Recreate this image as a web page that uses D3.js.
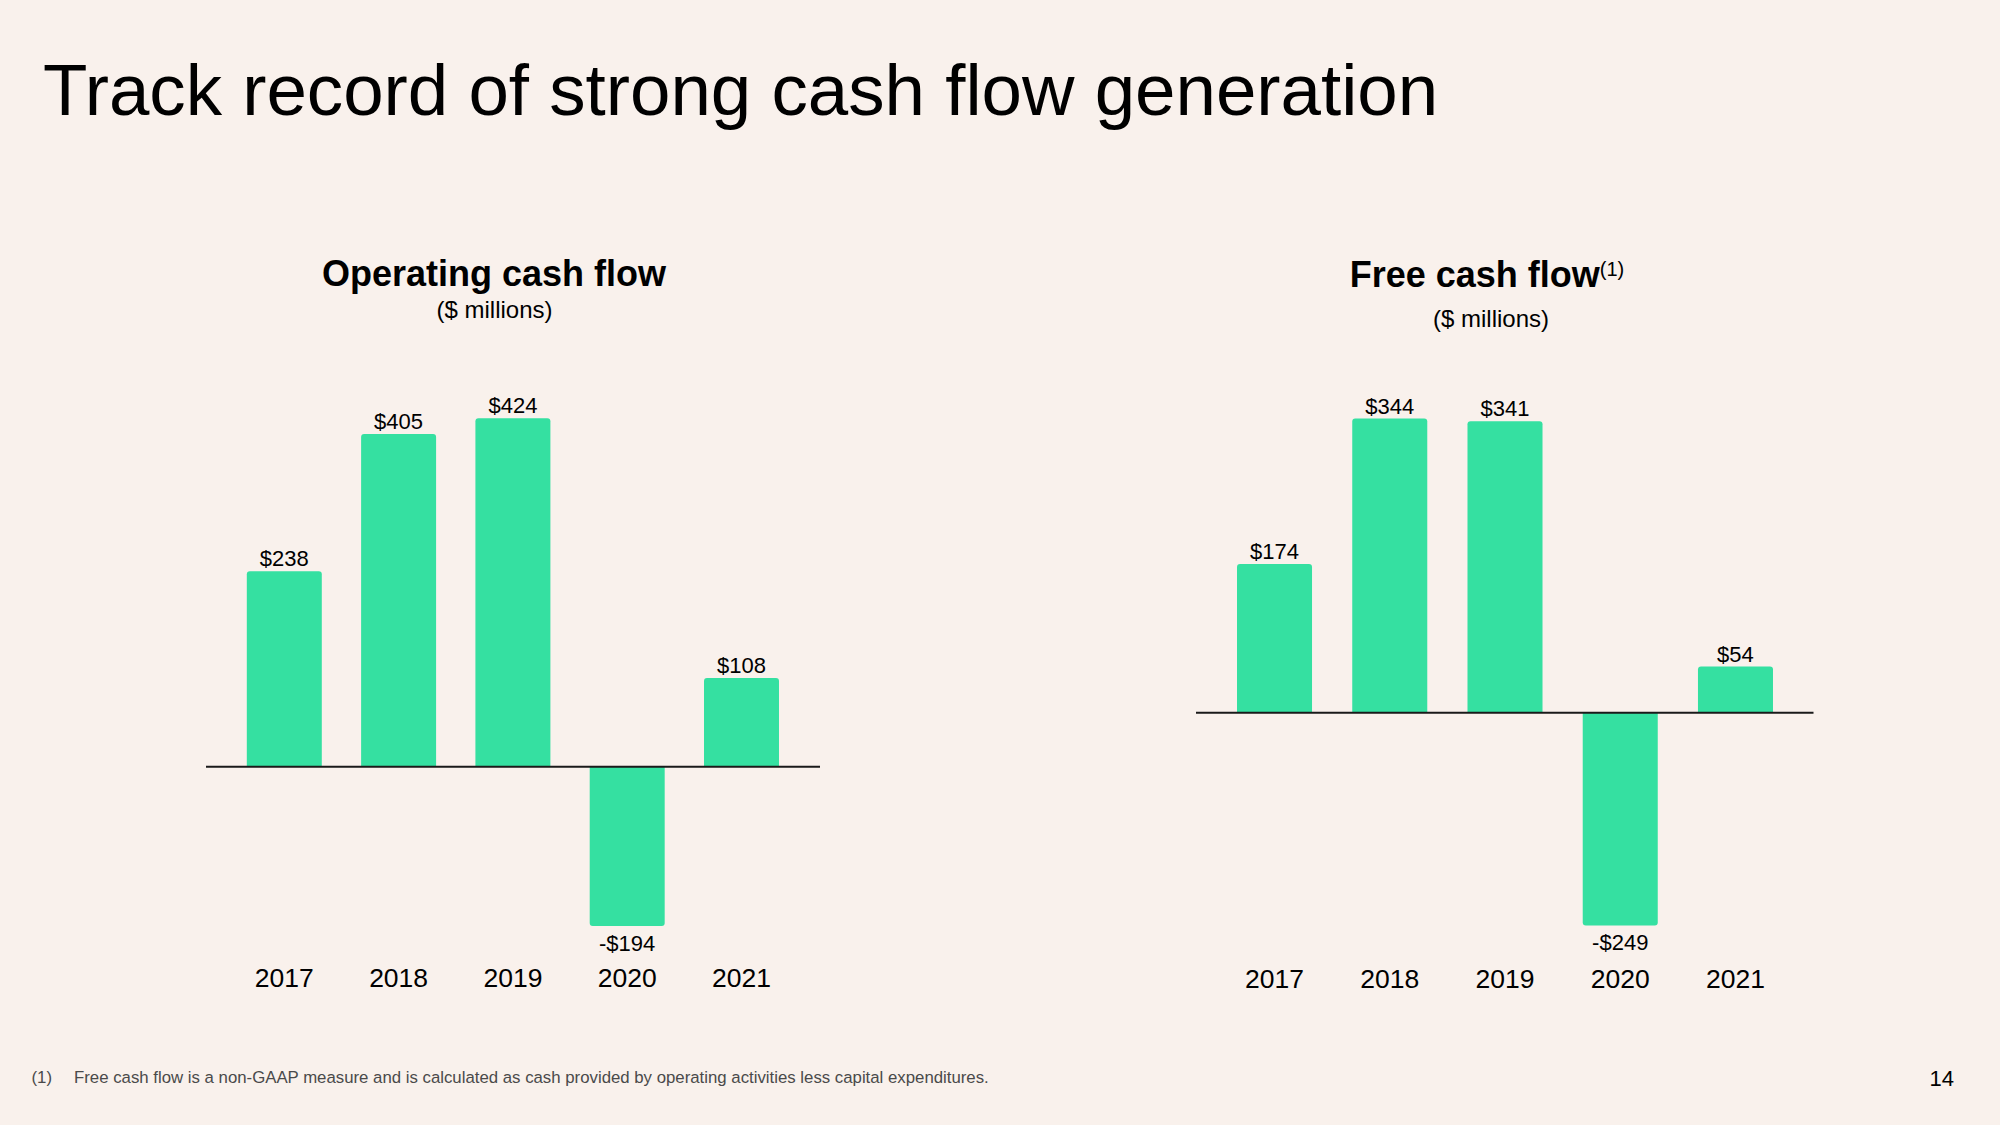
<!DOCTYPE html>
<html>
<head>
<meta charset="utf-8">
<script src="https://cdn.jsdelivr.net/npm/d3@7"></script>
<style>
  html, body { margin: 0; padding: 0; background: #f9f1ec; }
  svg { display: block; }
  text { font-family: "Liberation Sans", Arial, Helvetica, sans-serif; }
</style>
</head>
<body>
<svg id="chart" width="2000" height="1125"></svg>
<script>
const years = ["2017", "2018", "2019", "2020", "2021"];
const operatingCashFlow = [238, 405, 424, -194, 108];
const freeCashFlow = [174, 344, 341, -249, 54];
const operatingLabels = ["$238", "$405", "$424", "-$194", "$108"];
const freeLabels = ["$174", "$344", "$341", "-$249", "$54"];

const BAR = "#35e0a1";
const svg = d3.select("#chart");

svg.append("rect").attr("width", 2000).attr("height", 1125).attr("fill", "#f9f1ec");

svg.append("text").attr("x", 43).attr("y", 115)
  .attr("font-size", 72.7).attr("fill", "#000")
  .text("Track record of strong cash flow generation");

function barPath(x, w, y0, y1, r) {
  if (y1 < y0) {
    return `M${x},${y0}V${y1 + r}Q${x},${y1} ${x + r},${y1}H${x + w - r}Q${x + w},${y1} ${x + w},${y1 + r}V${y0}Z`;
  } else {
    return `M${x},${y0}V${y1 - r}Q${x},${y1} ${x + r},${y1}H${x + w - r}Q${x + w},${y1} ${x + w},${y1 - r}V${y0}Z`;
  }
}

function drawPanel(cfg) {
  const g = svg.append("g");
  const x = d3.scaleBand().domain(years).range(cfg.xRange)
    .paddingInner(cfg.pad).paddingOuter(cfg.pad / 2);
  const y = d3.scaleLinear().domain(cfg.yDomain).range(cfg.yRange);
  const y0 = y(0);

  g.selectAll("path.bar").data(cfg.values).join("path")
    .attr("class", "bar")
    .attr("fill", BAR)
    .attr("d", (d, i) => barPath(x(years[i]), x.bandwidth(), y0, y(d), 3));

  g.append("line")
    .attr("x1", cfg.lineX[0]).attr("x2", cfg.lineX[1])
    .attr("y1", y0).attr("y2", y0)
    .attr("stroke", "#1a1a1a").attr("stroke-width", 2);

  g.selectAll("text.val").data(cfg.values).join("text")
    .attr("class", "val")
    .attr("x", (d, i) => x(years[i]) + x.bandwidth() / 2)
    .attr("y", d => d >= 0 ? y(d) - 5 : y(d) + 24.5)
    .attr("text-anchor", "middle").attr("font-size", 22).attr("fill", "#000")
    .text((d, i) => cfg.labels[i]);

  const xAxis = d3.axisBottom(x).tickSize(0).tickPadding(0);
  const ax = g.append("g").attr("transform", `translate(0,${cfg.yearBase})`).call(xAxis);
  ax.select(".domain").remove();
  ax.selectAll("text").attr("font-size", 26.5).attr("fill", "#000")
    .attr("dy", 0).attr("y", 0)
    .style("font-family", '"Liberation Sans", Arial, sans-serif');

  const t = g.append("text").attr("x", cfg.titleX).attr("y", cfg.titleY)
    .attr("text-anchor", "middle").attr("font-size", 36).attr("font-weight", "bold")
    .attr("fill", "#000");
  t.append("tspan").text(cfg.title);
  if (cfg.sup) {
    t.append("tspan").attr("font-size", 20).attr("font-weight", "normal")
      .attr("dy", -11).text(cfg.sup);
  }
  g.append("text").attr("x", cfg.subX).attr("y", cfg.subY)
    .attr("text-anchor", "middle").attr("font-size", 24).attr("fill", "#000")
    .text("($ millions)");
}

drawPanel({
  values: operatingCashFlow, labels: operatingLabels,
  xRange: [227.15, 798.65], pad: 0.344,
  yDomain: [-250, 450], yRange: [972.1, 397.0],
  lineX: [206, 820], yearBase: 986.5,
  title: "Operating cash flow", titleX: 494, titleY: 285.5,
  subX: 494.5, subY: 318
});

drawPanel({
  values: freeCashFlow, labels: freeLabels,
  xRange: [1216.9, 1793.1], pad: 0.349,
  yDomain: [-250, 400], yRange: [926.45, 370.7],
  lineX: [1196, 1813.5], yearBase: 988,
  title: "Free cash flow", sup: "(1)", titleX: 1487, titleY: 286.5,
  subX: 1491, subY: 327
});

svg.append("text").attr("x", 31.5).attr("y", 1082.5)
  .attr("font-size", 16.8).attr("fill", "#4a4a4a").text("(1)");
svg.append("text").attr("x", 74).attr("y", 1082.5)
  .attr("font-size", 16.8).attr("fill", "#4a4a4a")
  .text("Free cash flow is a non-GAAP measure and is calculated as cash provided by operating activities less capital expenditures.");

svg.append("text").attr("x", 1954).attr("y", 1086)
  .attr("text-anchor", "end").attr("font-size", 22).attr("fill", "#000").text("14");
</script>
</body>
</html>
